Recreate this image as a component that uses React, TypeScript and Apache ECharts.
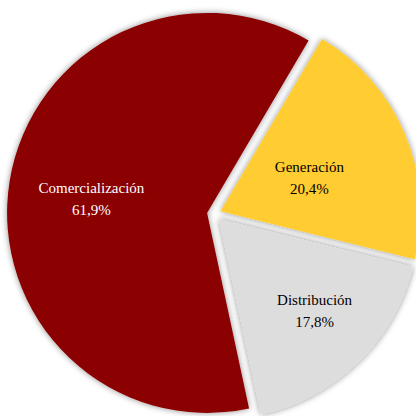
import React, { useEffect, useRef } from "react";
import * as echarts from "echarts";

const categories = ["Generación", "Distribución", "Comercialización"];
const values = [20.4, 17.8, 61.9];
const colors = ["#FFCC33", "#DEDDDE", "#8B0000"];
const labelColors = ["#000000", "#000000", "#FFFFFF"];
const labelShift = [
  [-6, 7],
  [24, 18],
  [-14, 3],
];
const FONT = "Liberation Serif, DejaVu Serif, Tinos, serif";

export default function App() {
  const ref = useRef<HTMLDivElement>(null);
  useEffect(() => {
    document.body.style.margin = "0";
    const chart = echarts.init(ref.current!, null, { renderer: "svg" });
    chart.setOption({
      animation: false,
      backgroundColor: "#FFFFFF",
      textStyle: { fontFamily: FONT },
      series: [
        {
          type: "pie",
          center: [214, 214],
          radius: [0, 200],
          startAngle: 59.5,
          clockwise: true,
          selectedMode: "multiple",
          selectedOffset: 7,
          avoidLabelOverlap: false,
          emphasis: { disabled: true },
          itemStyle: {
            shadowBlur: 6,
            shadowColor: "rgba(0,0,0,0.45)",
            shadowOffsetX: 0,
            shadowOffsetY: 0,
          },
          labelLayout: (p: any) => ({
            dx: labelShift[p.dataIndex][0],
            dy: labelShift[p.dataIndex][1],
          }),
          label: {
            show: true,
            position: "inside",
            fontFamily: FONT,
            fontSize: 15,
            lineHeight: 22,
            formatter: (p: any) =>
              p.name + "\n" + p.value.toFixed(1).replace(".", ",") + "%",
          },
          labelLine: { show: false },
          data: categories.map((c, i) => ({
            name: c,
            value: values[i],
            selected: true,
            itemStyle: { color: colors[i] },
            label: { color: labelColors[i], fontFamily: FONT },
          })),
        },
      ],
    });
    return () => chart.dispose();
  }, []);
  return (
    <div
      ref={ref}
      style={{ width: 416, height: 416, fontFamily: "'Liberation Serif', serif" }}
    />
  );
}
